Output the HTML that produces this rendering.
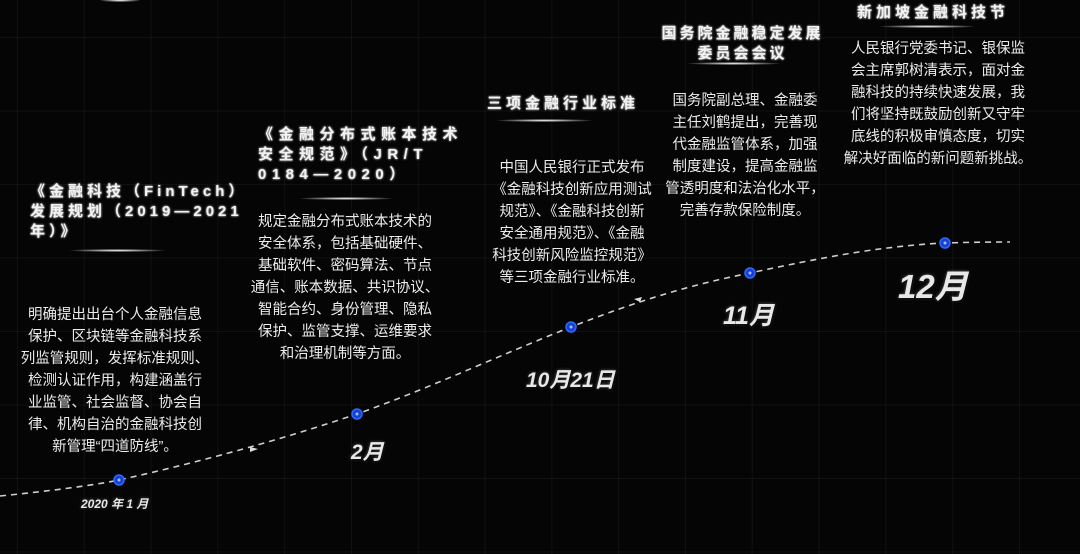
<!DOCTYPE html>
<html><head><meta charset="utf-8"><style>
html,body{margin:0;padding:0}
body{width:1080px;height:554px;background:#050505;position:relative;overflow:hidden;font-family:"Liberation Sans","Noto Sans CJK SC",sans-serif;color:#ececec}
.grid{position:absolute;inset:0;background-image:linear-gradient(to right,rgba(255,255,255,0.045) 1px,transparent 1px),linear-gradient(to bottom,rgba(255,255,255,0.045) 1px,transparent 1px);background-size:66.8px 73.5px;background-position:17px 37px}
.t{position:absolute;font-weight:bold;font-size:15px;letter-spacing:4px;line-height:20px;color:#f2f2f2;text-shadow:0 0 2px #fff;white-space:nowrap}
.b{position:absolute;font-size:14.5px;line-height:22px;text-align:center;color:#ececec;white-space:nowrap}
.g{position:absolute;height:3px;border-radius:50%;background:radial-gradient(ellipse at center,#fff 0%,rgba(255,255,255,0.6) 30%,rgba(255,255,255,0) 75%)}
.m{position:absolute;font-weight:bold;font-style:italic;color:#e8e8e8;text-shadow:1px 1px 2px #000,0 0 3px rgba(255,255,255,.4)}
</style></head><body>
<div class="grid"></div>
<div class="g" style="left:100px;top:-1px;width:40px"></div>
<svg width="1080" height="554" style="position:absolute;left:0;top:0">
<path d="M0,496 C60,490 100,484 119,480 C200,462 280,440 357,414 C430,388 500,355 571,327 C640,300 690,285 750,273 C820,258 880,246 945,243 C975,242 1000,242 1010,242" fill="none" stroke="#cfcfcf" stroke-width="1.6" stroke-dasharray="6,5"/>
<path d="M250,447 l8,2 l-8,3z" fill="#ddd"/>
<path d="M642,297 l-8,2 l6,3z" fill="#ddd"/>
<g fill="#1a3fd0" stroke="#2a6bff" stroke-width="1.5">
<circle cx="119" cy="480" r="5"/><circle cx="357" cy="414" r="5"/><circle cx="571" cy="327" r="5"/><circle cx="750" cy="273" r="5"/><circle cx="945" cy="243" r="5"/>
</g>
<g fill="#9fc0ff"><circle cx="119" cy="480" r="1.5"/><circle cx="357" cy="414" r="1.5"/><circle cx="571" cy="327" r="1.5"/><circle cx="750" cy="273" r="1.5"/><circle cx="945" cy="243" r="1.5"/></g>
</svg>

<div class="t" style="left:30px;top:182px">《金融科技（FinTech）<br>发展规划（2019—2021<br>年）》</div>
<div class="g" style="left:70px;top:249px;width:95px"></div>
<div class="b" style="left:20px;top:304px;width:190px">明确提出出台个人金融信息<br>保护、区块链等金融科技系<br>列监管规则，发挥标准规则、<br>检测认证作用，构建涵盖行<br>业监管、社会监督、协会自<br>律、机构自治的金融科技创<br>新管理“四道防线”。</div>
<div class="m" style="left:81px;top:495px;font-size:12px">2020 年 1 月</div>

<div class="t" style="left:258px;top:125px;letter-spacing:5.5px">《金融分布式账本技术<br>安全规范》（JR/T<br>0184—2020）</div>
<div class="g" style="left:300px;top:197px;width:92px"></div>
<div class="b" style="left:250px;top:211px;width:190px">规定金融分布式账本技术的<br>安全体系，包括基础硬件、<br>基础软件、密码算法、节点<br>通信、账本数据、共识协议、<br>智能合约、身份管理、隐私<br>保护、监管支撑、运维要求<br>和治理机制等方面。</div>
<div class="m" style="left:351px;top:436px;font-size:21px">2月</div>

<div class="t" style="left:487px;top:94px">三项金融行业标准</div>
<div class="g" style="left:497px;top:119px;width:95px"></div>
<div class="b" style="left:484px;top:157px;width:176px">中国人民银行正式发布<br>《金融科技创新应用测试<br>规范》、《金融科技创新<br>安全通用规范》、《金融<br>科技创新风险监控规范》<br>等三项金融行业标准。</div>
<div class="m" style="left:526px;top:364px;font-size:21px">10月21日</div>

<div class="t" style="left:655px;top:24px;text-align:center;width:175px;letter-spacing:3px">国务院金融稳定发展<br>委员会会议</div>
<div class="g" style="left:688px;top:62px;width:92px"></div>
<div class="b" style="left:664px;top:90px;width:162px">国务院副总理、金融委<br>主任刘鹤提出，完善现<br>代金融监管体系，加强<br>制度建设，提高金融监<br>管透明度和法治化水平，<br>完善存款保险制度。</div>
<div class="m" style="left:723px;top:296px;font-size:25px">11月</div>

<div class="t" style="left:857px;top:3px">新加坡金融科技节</div>
<div class="g" style="left:880px;top:25px;width:95px"></div>
<div class="b" style="left:842px;top:38px;width:192px">人民银行党委书记、银保监<br>会主席郭树清表示，面对金<br>融科技的持续快速发展，我<br>们将坚持既鼓励创新又守牢<br>底线的积极审慎态度，切实<br>解决好面临的新问题新挑战。</div>
<div class="m" style="left:898px;top:260px;font-size:33px">12月</div>
</body></html>
